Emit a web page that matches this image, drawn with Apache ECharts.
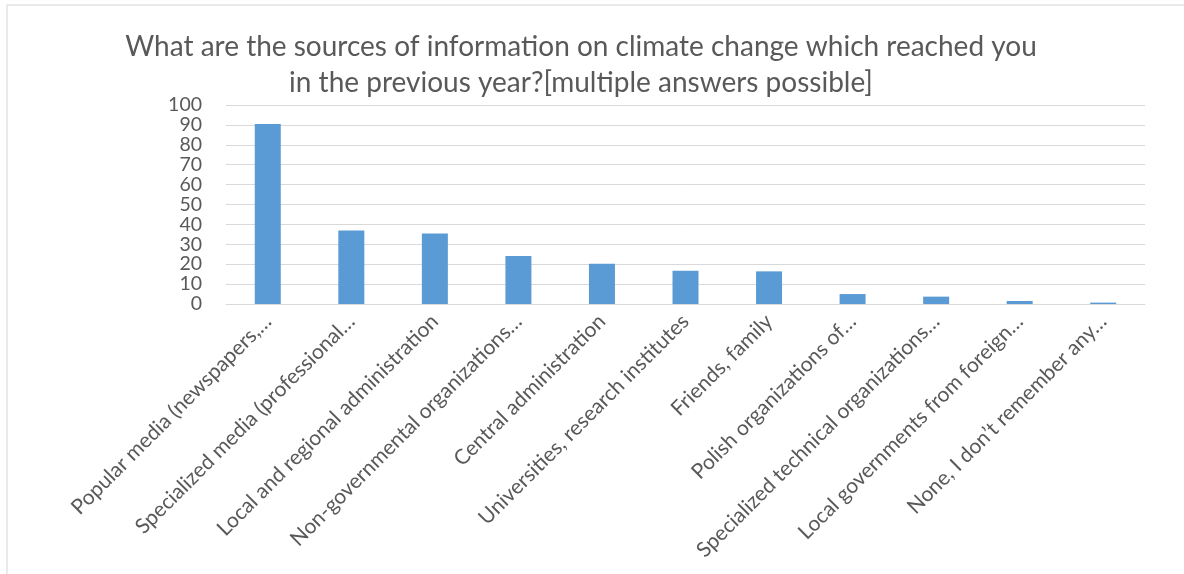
<!DOCTYPE html>
<html>
<head>
<meta charset="utf-8">
<script src="https://cdn.jsdelivr.net/npm/echarts@6/dist/echarts.min.js"></script>
<style>
  html, body { margin: 0; padding: 0; background: #ffffff; }
  #chart { width: 1184px; height: 574px; }
</style>
</head>
<body>
<div id="chart"></div>
<script>
// Survey answers: sources of climate-change information (percent of respondents)
const categories = [
  'Popular media (newspapers,…',
  'Specialized media (professional…',
  'Local and regional administration',
  'Non-governmental organizations…',
  'Central administration',
  'Universities, research institutes',
  'Friends, family',
  'Polish organizations of…',
  'Specialized technical organizations…',
  'Local governments from foreign…',
  'None, I don’t remember any…'
];
const shares = [90.5, 36.9, 35.4, 24.1, 20.2, 16.7, 16.4, 5.0, 3.7, 1.5, 0.7];
const yTicks = { min: 0, max: 100, interval: 10 };
const titleLines = [
  'What are the sources of information on climate change which reached you',
  'in the previous year?[multiple answers possible]'
];

const textColor = '#595959';
const font = 'Lato, "Open Sans", sans-serif';

const chart = echarts.init(document.getElementById('chart'), null, { renderer: 'canvas' });
chart.setOption({
  backgroundColor: '#ffffff',
  animation: false,
  title: {
    text: titleLines.join('\n'),
    left: 576,
    textAlign: 'center',
    top: 24,
    textStyle: {
      color: textColor,
      fontFamily: font,
      fontWeight: 'normal',
      fontSize: 28,
      lineHeight: 36
    }
  },
  graphic: [{
    type: 'rect',
    shape: { x: 7, y: 5, width: 1200, height: 600 },
    style: { fill: 'none', stroke: '#e3e3e3', lineWidth: 1.5 },
    silent: true
  }],
  grid: { left: 226, right: 39, top: 105, bottom: 270 },
  xAxis: {
    type: 'category',
    data: categories,
    axisLine: { show: true, lineStyle: { color: '#d9d9d9', width: 1 } },
    axisTick: { show: false },
    axisLabel: {
      interval: 0,
      rotate: 45,
      margin: 14,
      padding: [28, 0, 0, 0],
      color: textColor,
      fontFamily: font,
      fontSize: 21
    }
  },
  yAxis: {
    type: 'value',
    min: yTicks.min,
    max: yTicks.max,
    interval: yTicks.interval,
    axisLine: { show: false },
    axisTick: { show: false },
    splitLine: { lineStyle: { color: '#d9d9d9', width: 1 } },
    axisLabel: {
      margin: 24,
      showMinLabel: true,
      showMaxLabel: true,
      color: textColor,
      fontFamily: font,
      fontSize: 19.5,
      lineHeight: 18
    }
  },
  series: [{
    type: 'bar',
    data: shares,
    barWidth: 26,
    itemStyle: { color: '#5b9bd5' }
  }]
});
</script>
</body>
</html>
